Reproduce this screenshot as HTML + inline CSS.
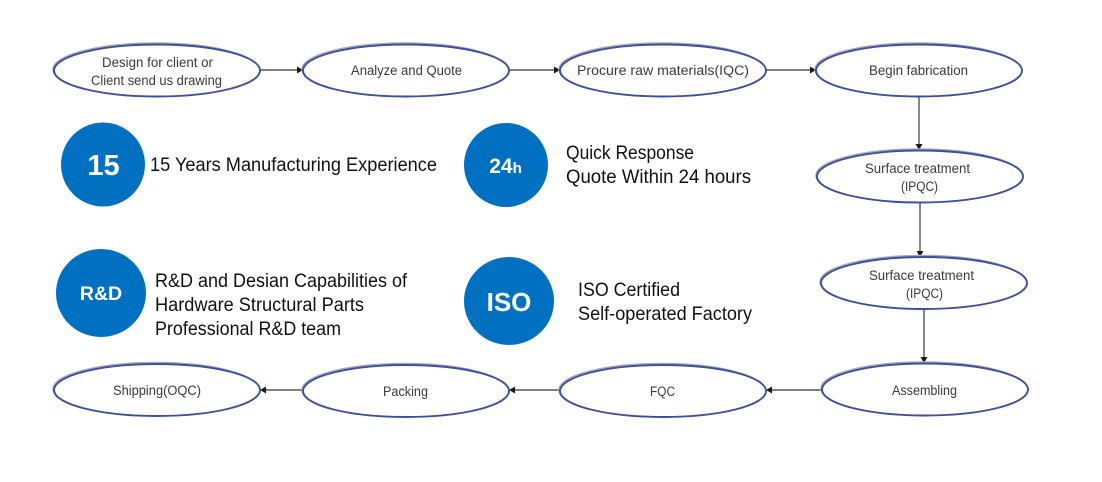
<!DOCTYPE html>
<html>
<head>
<meta charset="utf-8">
<style>
html,body{margin:0;padding:0;background:#fff;width:1102px;height:482px;overflow:hidden}
svg{display:block}
text{font-family:"Liberation Sans",sans-serif}
.n{font-size:13.4px;fill:#3a3a3a}
.t{font-size:19px;fill:#111}
.c{fill:#fff;font-weight:bold;text-anchor:middle}
.e{fill:#fff;stroke:#3f4f9f;stroke-width:1.9}
.s{fill:none;stroke:#a9a9b4;stroke-width:2.4}
.l{stroke:#555;stroke-width:1.4;fill:none}
.a{fill:#1a1a1a}
</style>
</head>
<body>
<svg width="1102" height="482" viewBox="0 0 1102 482" xmlns="http://www.w3.org/2000/svg">
<rect width="1102" height="482" fill="#fff"/>

<!-- connectors -->
<path class="l" d="M260 70H298M509 70H555M766 70H811M919 97V145M920 203V252M924 309V358M822 390H771M560 390H514M303 390H265"/>
<path class="a" d="M303 70l-6-3.500v7zM560 70l-6-3.500v7zM816 70l-6-3.500v7zM919 150l-3.500-6h7zM920 257l-3.500-6h7zM924 363l-3.500-6h7zM766 390l6-3.500v7zM509 390l6-3.500v7zM260 390l6-3.500v7z"/>

<!-- ellipses -->
<g>
<ellipse class="s" cx="155.500" cy="69.500" rx="102" ry="26"/><ellipse class="e" cx="157" cy="70.500" rx="103" ry="26"/>
<ellipse class="s" cx="404.500" cy="69.500" rx="102" ry="26"/><ellipse class="e" cx="406" cy="70.500" rx="103" ry="26"/>
<ellipse class="s" cx="661.500" cy="69.500" rx="102" ry="26"/><ellipse class="e" cx="663" cy="70.500" rx="103" ry="26"/>
<ellipse class="s" cx="917.500" cy="69.500" rx="102" ry="26"/><ellipse class="e" cx="919" cy="70.500" rx="103" ry="26"/>
<ellipse class="s" cx="918.500" cy="175.500" rx="102" ry="26"/><ellipse class="e" cx="920" cy="176.500" rx="103" ry="26"/>
<ellipse class="s" cx="922.500" cy="282" rx="102" ry="26"/><ellipse class="e" cx="924" cy="283" rx="103" ry="26"/>
<ellipse class="s" cx="923.500" cy="388.500" rx="102" ry="26"/><ellipse class="e" cx="925" cy="389.500" rx="103" ry="26"/>
<ellipse class="s" cx="661.500" cy="390" rx="102" ry="26"/><ellipse class="e" cx="663" cy="391" rx="103" ry="26"/>
<ellipse class="s" cx="404.500" cy="390" rx="102" ry="26"/><ellipse class="e" cx="406" cy="391" rx="103" ry="26"/>
<ellipse class="s" cx="155.500" cy="389" rx="102" ry="26"/><ellipse class="e" cx="157" cy="390" rx="103" ry="26"/>
</g>

<!-- node labels -->
<text class="n" x="102" y="67" textLength="111" lengthAdjust="spacingAndGlyphs">Design for client or</text>
<text class="n" x="91" y="85" textLength="131" lengthAdjust="spacingAndGlyphs">Client send us drawing</text>
<text class="n" x="351" y="75" textLength="111" lengthAdjust="spacingAndGlyphs">Analyze and Quote</text>
<text class="n" x="577" y="75" textLength="172" lengthAdjust="spacingAndGlyphs">Procure raw materials(IQC)</text>
<text class="n" x="869" y="75" textLength="99" lengthAdjust="spacingAndGlyphs">Begin fabrication</text>
<text class="n" x="865" y="173" textLength="105" lengthAdjust="spacingAndGlyphs">Surface treatment</text>
<text class="n" x="901" y="191" textLength="37" lengthAdjust="spacingAndGlyphs">(IPQC)</text>
<text class="n" x="869" y="280" textLength="105" lengthAdjust="spacingAndGlyphs">Surface treatment</text>
<text class="n" x="906" y="298" textLength="37" lengthAdjust="spacingAndGlyphs">(IPQC)</text>
<text class="n" x="892" y="395" textLength="65" lengthAdjust="spacingAndGlyphs">Assembling</text>
<text class="n" x="650" y="396" textLength="25" lengthAdjust="spacingAndGlyphs">FQC</text>
<text class="n" x="383" y="396" textLength="45" lengthAdjust="spacingAndGlyphs">Packing</text>
<text class="n" x="113" y="395" textLength="88" lengthAdjust="spacingAndGlyphs">Shipping(OQC)</text>

<!-- circles -->
<ellipse cx="103" cy="164.500" rx="42" ry="42" fill="#0170c1"/>
<ellipse cx="506" cy="165" rx="42" ry="42" fill="#0170c1"/>
<ellipse cx="101" cy="293" rx="45" ry="44" fill="#0170c1"/>
<ellipse cx="509" cy="301" rx="45" ry="44" fill="#0170c1"/>
<text class="c" x="103.500" y="175" font-size="29">15</text>
<text class="c" x="505.500" y="173" font-size="21">24<tspan font-size="15">h</tspan></text>
<text class="c" x="101" y="300" font-size="19.500">R&amp;D</text>
<text class="c" x="509" y="311" font-size="26">ISO</text>

<!-- feature text -->
<text class="t" x="150" y="171" textLength="287" lengthAdjust="spacingAndGlyphs">15 Years Manufacturing Experience</text>
<text class="t" x="566" y="159" textLength="128" lengthAdjust="spacingAndGlyphs">Quick Response</text>
<text class="t" x="566" y="183" textLength="185" lengthAdjust="spacingAndGlyphs">Quote Within 24 hours</text>
<text class="t" x="155" y="287" textLength="252" lengthAdjust="spacingAndGlyphs">R&amp;D and Desian Capabilities of</text>
<text class="t" x="155" y="311" textLength="209" lengthAdjust="spacingAndGlyphs">Hardware Structural Parts</text>
<text class="t" x="155" y="335" textLength="186" lengthAdjust="spacingAndGlyphs">Professional R&amp;D team</text>
<text class="t" x="578" y="296" textLength="102" lengthAdjust="spacingAndGlyphs">ISO Certified</text>
<text class="t" x="578" y="320" textLength="174" lengthAdjust="spacingAndGlyphs">Self-operated Factory</text>
</svg>
</body>
</html>
